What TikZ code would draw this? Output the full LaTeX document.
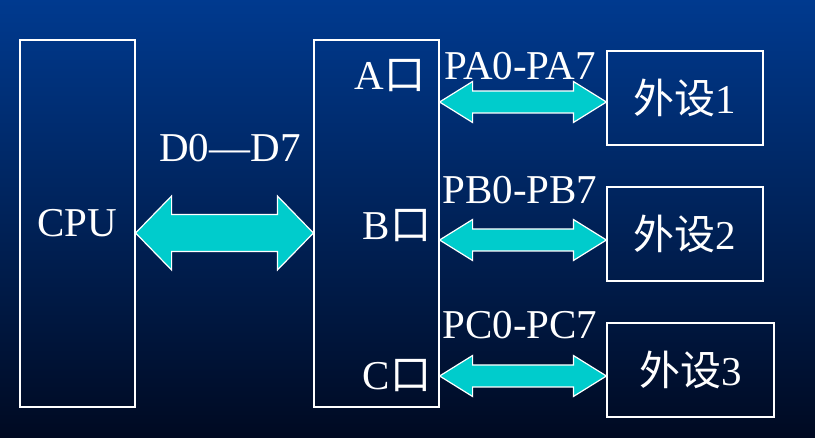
\documentclass[tikz,border=0pt]{standalone}
\usepackage{fontspec}
\setmainfont{Liberation Serif}
\newfontfamily\cjk{Noto Sans CJK SC}
\usepackage{tikz}
\usetikzlibrary{calc}
\definecolor{BgTop}{HTML}{003A8F}
\definecolor{BgBottom}{HTML}{000A22}
\definecolor{BusCyan}{HTML}{00CCCC}
\tikzset{
  unitbox/.style={rectangle, draw=white, line width=1.2pt, inner sep=0pt, text=white, font=\fontsize{41}{43}\selectfont},
  portlabel/.style={text=white, inner sep=0pt, font=\fontsize{41}{43}\selectfont},
  buslabel/.style={text=white, inner sep=0pt, font=\fontsize{41}{43}\selectfont},
  busarrow/.style={draw=white, line width=1.2pt, fill=BusCyan, line join=miter}
}
% fat double arrow: from, to, half head, half shaft, head length
\newcommand{\buslink}[5]{%
  \draw[busarrow] let \p1=(#1), \p2=(#2) in
    (\x1,\y1) -- (\x1+#5,\y1+#3) -- (\x1+#5,\y1+#4) -- (\x2-#5,\y1+#4) -- (\x2-#5,\y1+#3) -- (\x2,\y1)
    -- (\x2-#5,\y1-#3) -- (\x2-#5,\y1-#4) -- (\x1+#5,\y1-#4) -- (\x1+#5,\y1-#3) -- cycle;}

\begin{document}
\begin{tikzpicture}[x=1pt, y=1pt]
  % Background
  \shade[top color=BgTop, bottom color=BgBottom] (0,0) rectangle (815,437);
  \useasboundingbox (0,0) rectangle (815,437);

  % Units
  \node[unitbox, minimum width=115pt, minimum height=367pt] (cpu) at (77.5,213.5) {CPU};
  \node[unitbox, minimum width=125pt, minimum height=367pt] (port) at (376.5,213.5) {};
  \node[unitbox, minimum width=156pt, minimum height=94pt] (dev1) at (685,339) {{\cjk 外设}1};
  \node[unitbox, minimum width=156pt, minimum height=94pt] (dev2) at (685,203) {{\cjk 外设}2};
  \node[unitbox, minimum width=167pt, minimum height=94pt] (dev3) at (690.5,67) {{\cjk 外设}3};

  % Port names
  \node[portlabel] (pa) at (390,361) {A{\cjk 口}};
  \node[portlabel] (pb) at (397,211) {B{\cjk 口}};
  \node[portlabel] (pc) at (397,61) {C{\cjk 口}};

  % Bus names
  \node[buslabel] (dbus) at (230,289) {D0---D7};
  \node[buslabel] (abus) at (520,371) {PA0-PA7};
  \node[buslabel] (bbus) at (520,247) {PB0-PB7};
  \node[buslabel] (cbus) at (520,112) {PC0-PC7};

  % Arrow ends
  \coordinate (cpuout) at (cpu.east |- 0,204);
  \coordinate (portin) at (port.west |- 0,204);
  \coordinate (aout) at (port.east |- 0,335);
  \coordinate (bout) at (port.east |- 0,197);
  \coordinate (cout) at (port.east |- 0,61);

  % Buses
  \buslink{cpuout}{portin}{37pt}{18.5pt}{36pt}
  \buslink{aout}{dev1.west |- aout}{20.5pt}{11pt}{33pt}
  \buslink{bout}{dev2.west |- bout}{20.5pt}{11pt}{33pt}
  \buslink{cout}{dev3.west |- cout}{20.5pt}{11pt}{33pt}
\end{tikzpicture}
\end{document}
